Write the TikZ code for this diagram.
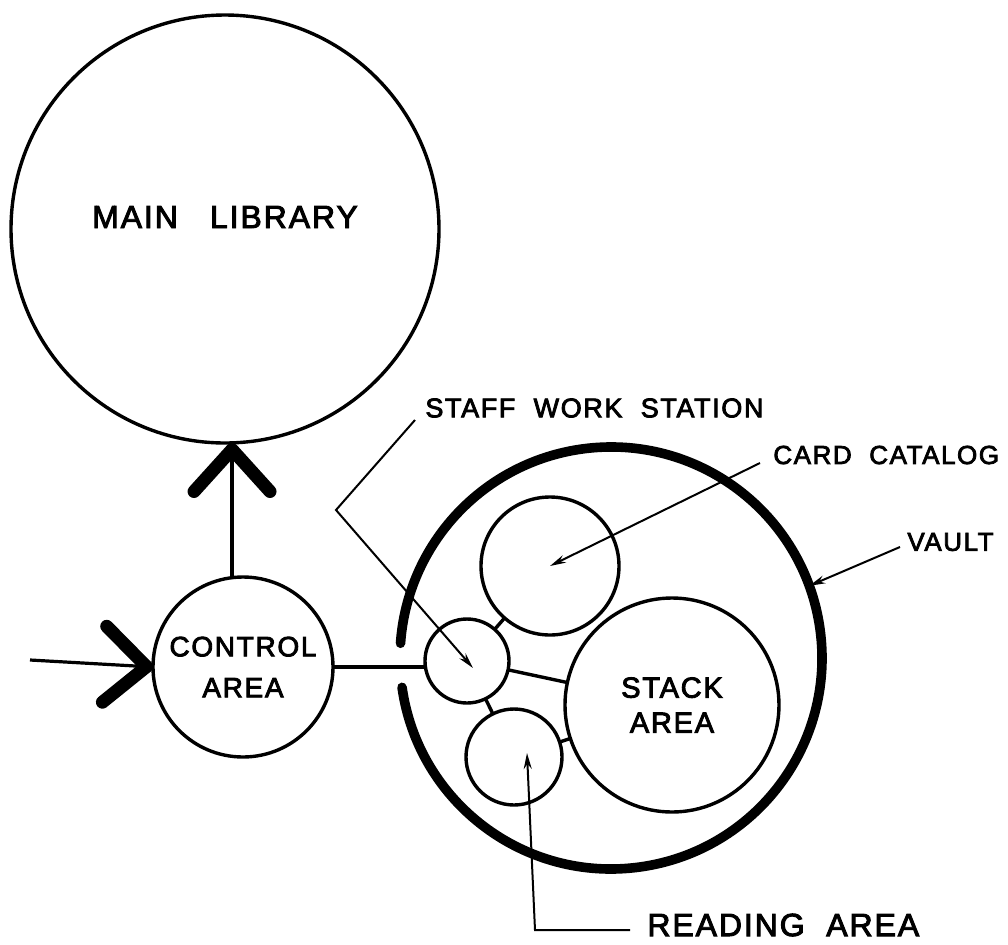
\documentclass[tikz,border=0pt]{standalone}
\usepackage{fontspec}
\setmainfont{Liberation Sans}[LetterSpace=6,FakeBold=3]
\usepackage{tikz}
\usetikzlibrary{arrows.meta}

\begin{document}
\begin{tikzpicture}[
  x=0.5pt,y=-0.5pt,
  room/.style={draw,circle,line width=1.7pt,inner sep=0pt,outer sep=0pt,align=center,font=\fontsize{14}{20.5}\selectfont},
  lbl/.style={inner sep=0pt,font=\fontsize{13.5}{17}\selectfont},
  link/.style={line width=1.7pt},
  lead/.style={line width=1pt,-{Stealth[length=8pt,width=4pt]}},
  flow/.style={line width=1.6pt,-{Straight Barb[length=21pt,width=38pt,line width=6.5pt,round]}}
]
\useasboundingbox (0,0) rectangle (1008,944);
\node[room,minimum size=214pt,font=\fontsize{16}{19}\selectfont] (main) at (225,229) {\raisebox{12pt}{MAIN\quad LIBRARY}};
\node[room,minimum size=90pt] (control) at (243,667) {CONTROL\\AREA};
\node[room,minimum size=42pt] (staff) at (467,661) {};
\node[room,minimum size=69pt] (card) at (550,566) {};
\node[room,minimum size=107pt,font=\fontsize{14.5}{17.5}\selectfont] (stack) at (672,705) {STACK\\AREA};
\node[room,minimum size=48pt] (reading) at (514,757) {};
\node[circle,minimum size=211pt,inner sep=0pt,outer sep=0pt] (vault) at (611,658) {};
\draw[line width=4.8pt,line cap=round] (vault.188) arc[start angle=188,end angle=536,radius=105.5pt];

\draw[link] (staff) -- (card);
\draw[link] (staff) -- (stack);
\draw[link] (staff) -- (reading);
\draw[link] (reading) -- (stack);
\draw[line width=2.2pt] (control.east) -- (control.east -| staff.west);

\coordinate (entry) at (30,660);
\draw[flow] (entry) -- (control.west);
\draw[flow] (control.97) -- (control.97 |- main.south);

\node[lbl,anchor=west] (stafflbl) at (425,408) {STAFF\ \ WORK\ \ STATION};
\coordinate (staffbend) at (336,510);
\coordinate (staffpt) at (473,668);
\draw[lead] ([shift={(-10,12)}]stafflbl.west) -- (staffbend) -- (staffpt);

\node[lbl,anchor=west,font=\fontsize{13}{16}\selectfont] (cardlbl) at (773,455) {CARD\ \ CATALOG};
\draw[lead] ([shift={(-13,8)}]cardlbl.west) -- (card.center);

\node[lbl,anchor=west,font=\fontsize{13}{15}\selectfont] (vaultlbl) at (907,542) {VAULT};
\draw[lead] ([shift={(-7,5)}]vaultlbl.west) -- (vault.20);

\node[lbl,anchor=west,font=\fontsize{16}{19}\selectfont] (readlbl) at (647,925) {READING\ \ AREA};
\coordinate (readbend) at (535,930);
\coordinate (readpt) at (527,753);
\draw[lead] ([shift={(-17,5)}]readlbl.west) -- (readbend) -- (readpt);
\end{tikzpicture}
\end{document}
